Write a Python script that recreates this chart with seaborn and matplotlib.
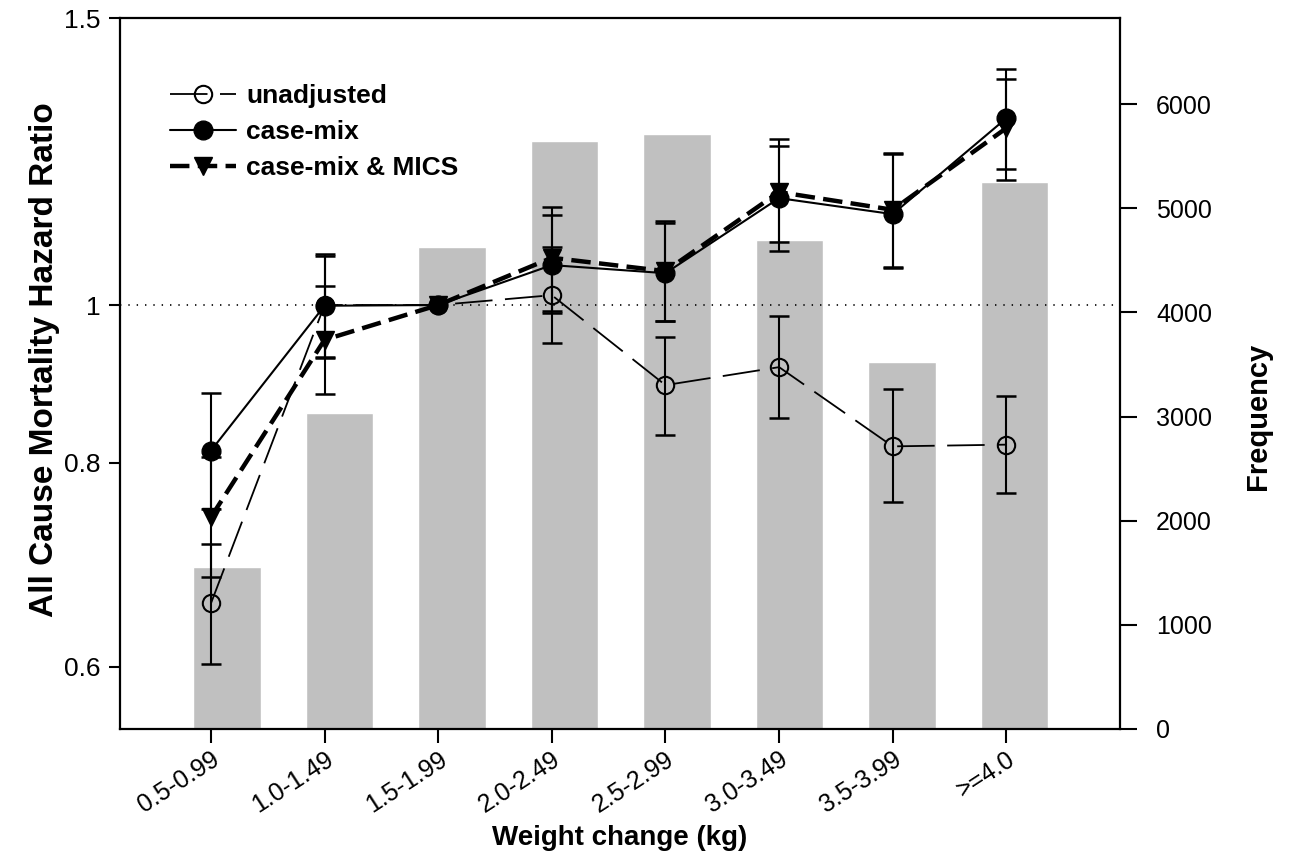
import numpy as np
import pandas as pd
import seaborn as sns
import matplotlib.pyplot as plt

# categorias de ganho de peso
categorias = ['0.5-0.99', '1.0-1.49', '1.5-1.99', '2.0-2.49',
              '2.5-2.99', '3.0-3.49', '3.5-3.99', '>=4.0']

# frequencia (barras cinzas, eixo direito)
frequencia = [1560, 3030, 4630, 5645, 5712, 4690, 3528, 5255]

# hazard ratios e IC 95% (categoria 1.5-1.99 = referencia, sem IC)
hr_unadj = [0.656, 1.000, 1.000, 1.014, 0.893, 0.916, 0.819, 0.821]
lo_unadj = [0.602, 0.928, np.nan, 0.948, 0.832, 0.852, 0.757, 0.767]
hi_unadj = [0.713, 1.075, np.nan, 1.085, 0.956, 0.985, 0.888, 0.879]

hr_casemix = [0.814, 0.999, 1.000, 1.058, 1.046, 1.163, 1.137, 1.302]
lo_casemix = [0.750, 0.929, np.nan, 0.989, 0.978, 1.079, 1.054, 1.212]
hi_casemix = [0.883, 1.072, np.nan, 1.136, 1.123, 1.252, 1.238, 1.396]

hr_mics = [0.741, 0.952, 1.000, 1.069, 1.049, 1.173, 1.144, 1.284]
lo_mics = [0.681, 0.882, np.nan, 0.992, 0.978, 1.093, 1.055, 1.193]
hi_mics = [0.807, 1.027, np.nan, 1.149, 1.126, 1.264, 1.240, 1.376]

sns.set_theme(style='ticks')
plt.rcParams['font.family'] = ['Liberation Sans', 'DejaVu Sans']
plt.rcParams['lines.scale_dashes'] = False
for k in ['text.color', 'axes.labelcolor', 'xtick.color', 'ytick.color', 'axes.edgecolor']:
    plt.rcParams[k] = 'black'

fig = plt.figure(figsize=(12.9, 8.61), dpi=100)
rect = [120 / 1290, 132 / 861, 1000 / 1290, 711 / 861]

# eixo das barras (frequencia) por baixo
ax_f = fig.add_axes(rect)
df_freq = pd.DataFrame({'cat': categorias, 'freq': frequencia})
sns.barplot(data=df_freq, x='cat', y='freq', color='#c0c0c0', saturation=1,
            width=0.604, ax=ax_f)
ax_f.set_xlim(-0.951, 7.938)
ax_f.set_ylim(0, 6826)
ax_f.set_yticks(range(0, 7000, 1000))
ax_f.yaxis.tick_right()
ax_f.yaxis.set_label_position('right')
ax_f.tick_params(axis='y', labelsize=18, length=12, width=1.5, pad=14)
ax_f.tick_params(axis='x', bottom=False, labelbottom=False)
ax_f.set_xlabel('')
ax_f.set_ylabel('Frequency', fontsize=21, fontweight='bold')
ax_f.yaxis.set_label_coords(1.124, 0.44)
for s in ax_f.spines.values():
    s.set_visible(False)

# eixo dos hazard ratios por cima
ax = fig.add_axes(rect)
ax.set_zorder(ax_f.get_zorder() + 1)
ax.patch.set_visible(False)
x = np.arange(len(categorias))

ax.axhline(1, color='black', ls=(0, (1, 5)), lw=1.2, zorder=1)

series = [
    ('unadjusted', hr_unadj, lo_unadj, hi_unadj,
     dict(marker='o', markersize=12.5, markerfacecolor='none', markeredgecolor='black',
          markeredgewidth=1.5, linewidth=1.3, linestyle=(0, (27, 9)))),
    ('case-mix', hr_casemix, lo_casemix, hi_casemix,
     dict(marker='o', markersize=13.5, markerfacecolor='black', markeredgecolor='black',
          markeredgewidth=1, linewidth=1.5, linestyle='-')),
    ('case-mix & MICS', hr_mics, lo_mics, hi_mics,
     dict(marker='v', markersize=13, markerfacecolor='black', markeredgecolor='black',
          markeredgewidth=1, linewidth=3.2, linestyle=(0, (14, 6)))),
]

for nome, hr, lo, hi, estilo in series:
    hr = np.array(hr)
    lo = np.array(lo)
    hi = np.array(hi)
    ok = ~np.isnan(lo)
    ax.errorbar(x[ok], hr[ok], yerr=[hr[ok] - lo[ok], hi[ok] - hr[ok]], fmt='none',
                ecolor='black', elinewidth=1.5, capsize=7.5, capthick=1.8, zorder=2)
    sns.lineplot(x=x, y=hr, color='black', label=nome, errorbar=None, ax=ax,
                 zorder=3, **estilo)

ax.set_yscale('log')
ax.set_ylim(0.5494, 1.5)
ax.set_yticks([0.6, 0.8, 1.0, 1.5])
ax.set_yticklabels(['0.6', '0.8', '1', '1.5'])
ax.minorticks_off()
ax.set_xlim(-0.8, 8.0)
ax.set_xticks(x)
ax.set_xticklabels(categorias, rotation=33, ha='right', rotation_mode='anchor')
ax.tick_params(axis='y', labelsize=19, length=8, width=1.5, pad=6, right=False)
ax.tick_params(axis='x', labelsize=18, length=10, width=1.5, pad=3)

for s in ax.spines.values():
    s.set_visible(True)
    s.set_linewidth(1.6)
    s.set_color('black')

ax.set_ylabel('All Cause Mortality Hazard Ratio', fontsize=24, fontweight='bold')
ax.yaxis.set_label_coords(-0.06, 0.519)
ax.set_xlabel('Weight change (kg)', fontsize=20, fontweight='bold')
ax.xaxis.set_label_coords(0.5, -0.135)

leg = ax.legend(loc='upper left', bbox_to_anchor=(0.026, 0.94), frameon=False,
                handlelength=2.5, labelspacing=0.45, handletextpad=0.4,
                prop={'weight': 'bold', 'size': 19})

fig.savefig('out.png', dpi=100)
